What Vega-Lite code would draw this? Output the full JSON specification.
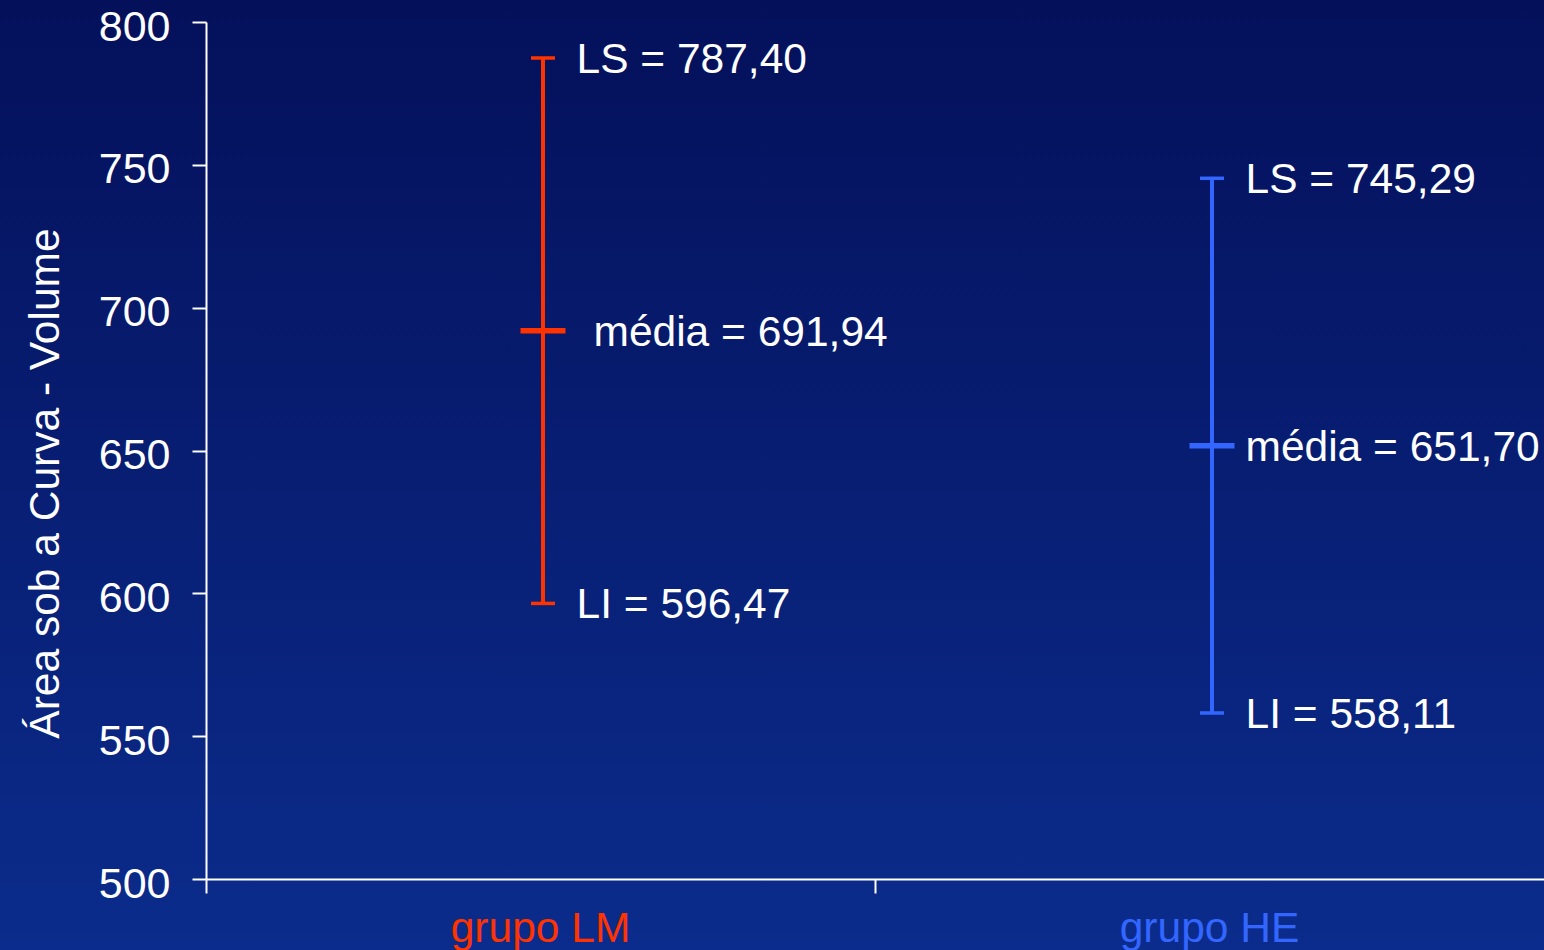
{
  "$schema": "https://vega.github.io/schema/vega-lite/v6.json",
  "width": 1544,
  "height": 950,
  "autosize": {"type": "none"},
  "padding": 0,
  "background": "#081d70",
  "datasets": {
    "intervalos": [
      {"grupo": "grupo LM", "LI": 596.47, "media": 691.94, "LS": 787.40},
      {"grupo": "grupo HE", "LI": 558.11, "media": 651.70, "LS": 745.29}
    ],
    "pontos": [
      {"grupo": "grupo LM", "stat": "LS", "valor": 787.40, "rotulo": "LS = 787,40"},
      {"grupo": "grupo LM", "stat": "média", "valor": 691.94, "rotulo": "média = 691,94"},
      {"grupo": "grupo LM", "stat": "LI", "valor": 596.47, "rotulo": "LI = 596,47"},
      {"grupo": "grupo HE", "stat": "LS", "valor": 745.29, "rotulo": "LS = 745,29"},
      {"grupo": "grupo HE", "stat": "média", "valor": 651.70, "rotulo": "média = 651,70"},
      {"grupo": "grupo HE", "stat": "LI", "valor": 558.11, "rotulo": "LI = 558,11"}
    ]
  },
  "encoding": {
    "x": {
      "field": "grupo",
      "type": "nominal",
      "sort": ["grupo LM", "grupo HE"],
      "scale": {"type": "band", "domain": ["grupo LM", "grupo HE"], "range": [206, 1544], "paddingInner": 0, "paddingOuter": 0},
      "axis": {
        "orient": "bottom",
        "offset": -71,
        "title": null,
        "bandPosition": 0,
        "labelAngle": 0,
        "labelFontSize": 42.5,
        "labelPadding": 14,
        "labelLimit": 0,
        "labelColor": {"condition": {"test": "datum.value === 'grupo LM'", "value": "#ff3300"}, "value": "#3366ff"},
        "tickSize": 14,
        "tickWidth": 2,
        "tickColor": "white",
        "domainColor": "white",
        "domainWidth": 2,
        "grid": false
      }
    }
  },
  "layer": [
    {
      "data": {"name": "intervalos"},
      "mark": {"type": "rule", "strokeWidth": 4, "xOffset": 2.5, "opacity": 1},
      "encoding": {
        "y": {
          "field": "LI",
          "type": "quantitative",
          "scale": {"domain": [500, 800], "range": [879, 22], "nice": false, "zero": false},
          "axis": {
            "orient": "left",
            "offset": -206,
            "values": [500, 550, 600, 650, 700, 750, 800],
            "title": "Área sob a Curva - Volume",
            "titleFontSize": 42.5,
            "titleFontWeight": "normal",
            "titleColor": "white",
            "titleAngle": 270,
            "titleBaseline": "alphabetic",
            "titleAlign": "center",
            "titleX": -148,
            "titleY": 483,
            "titleLimit": 0,
            "labelFontSize": 43,
            "labelColor": "white",
            "labelPadding": 22,
            "labelOffset": 5,
            "tickSize": 14,
            "tickWidth": 2,
            "tickColor": "white",
            "domainColor": "white",
            "domainWidth": 2,
            "grid": false
          }
        },
        "y2": {"field": "LS"},
        "color": {
          "field": "grupo",
          "type": "nominal",
          "scale": {"domain": ["grupo LM", "grupo HE"], "range": ["#ff3300", "#3366ff"]},
          "legend": null
        }
      }
    },
    {
      "data": {"name": "pontos"},
      "transform": [{"filter": "datum.stat !== 'média'"}],
      "mark": {"type": "tick", "orient": "horizontal", "size": 24, "thickness": 3.5, "xOffset": 2.5, "opacity": 1},
      "encoding": {
        "y": {"field": "valor", "type": "quantitative"},
        "color": {"field": "grupo", "type": "nominal", "legend": null}
      }
    },
    {
      "data": {"name": "pontos"},
      "transform": [{"filter": "datum.stat === 'média'"}],
      "mark": {"type": "tick", "orient": "horizontal", "size": 45, "thickness": 5.5, "xOffset": 2.5, "opacity": 1},
      "encoding": {
        "y": {"field": "valor", "type": "quantitative"},
        "color": {"field": "grupo", "type": "nominal", "legend": null}
      }
    },
    {
      "data": {"name": "pontos"},
      "transform": [{"filter": "datum.grupo === 'grupo HE' || datum.stat !== 'média'"}],
      "mark": {"type": "text", "align": "left", "baseline": "middle", "dx": 36, "dy": 2, "fontSize": 42.5, "color": "white"},
      "encoding": {
        "y": {"field": "valor", "type": "quantitative"},
        "text": {"field": "rotulo"}
      }
    },
    {
      "data": {"name": "pontos"},
      "transform": [{"filter": "datum.grupo === 'grupo LM' && datum.stat === 'média'"}],
      "mark": {"type": "text", "align": "left", "baseline": "middle", "dx": 53, "dy": 2, "fontSize": 42.5, "color": "white"},
      "encoding": {
        "y": {"field": "valor", "type": "quantitative"},
        "text": {"field": "rotulo"}
      }
    }
  ],
  "config": {
    "font": "Liberation Sans",
    "view": {
      "stroke": null,
      "fill": {
        "gradient": "linear",
        "x1": 0, "y1": 0, "x2": 0, "y2": 1,
        "stops": [
          {"offset": 0, "color": "#04105a"},
          {"offset": 1, "color": "#0b2c8c"}
        ]
      }
    }
  }
}
